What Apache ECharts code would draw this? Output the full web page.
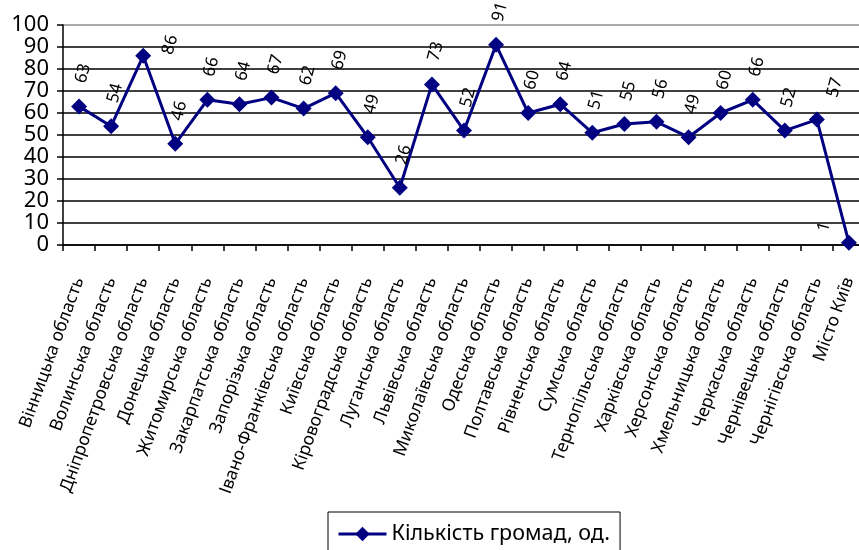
<!DOCTYPE html>
<html><head><meta charset="utf-8">
<script src="https://cdn.jsdelivr.net/npm/echarts@6/dist/echarts.min.js"></script>
<style>html,body{margin:0;padding:0;background:#fff}#c{width:859px;height:550px}</style>
</head><body><div id="c"></div>
<script>
const categories = ['Вінницька область','Волинська область','Дніпропетровська область','Донецька область','Житомирська область','Закарпатська область','Запорізька область','Івано-Франківська область','Київська область','Кіровоградська область','Луганська область','Львівська область','Миколаївська область','Одеська область','Полтавська область','Рівненська область','Сумська область','Тернопільська область','Харківська область','Херсонська область','Хмельницька область','Черкаська область','Чернівецька область','Чернігівська область','Місто Київ'];
const values = [63,54,86,46,66,64,67,62,69,49,26,73,52,91,60,64,51,55,56,49,60,66,52,57,1];
const seriesName = 'Кількість громад, од.';
const yTicks = {min:0, max:100, interval:10};

const FONT = 'Noto Sans';
const SYM = 16;
// label centre nudges relative to the marker centre
const defaultNudge = [4, -33];
const nudges = {2:[27,-11], 23:[18,-32], 24:[-25,-16]};
const data = values.map((v,i)=>{
  const n = nudges[i] || defaultNudge;
  return {value:v, label:{position:[SYM/2+n[0], SYM/2+n[1]]}};
});
const gridColors = [];
for (let v = yTicks.min; v <= yTicks.max; v += yTicks.interval) gridColors.push(v === yTicks.max ? '#8c8c8c' : '#000');

const chart = echarts.init(document.getElementById('c'));
chart.setOption({
  animation:false,
  textStyle:{fontFamily:FONT},
  grid:{left:63, top:25, right:-6, bottom:305, outerBoundsMode:'none'},
  legend:{
    data:[seriesName], left:328, top:512,
    borderColor:'#000', borderWidth:1, padding:[11,10,14,9],
    itemWidth:48, itemHeight:18, itemGap:5,
    itemStyle:{color:'#000080'},
    lineStyle:{color:'#000080', width:3},
    textStyle:{fontFamily:FONT, fontSize:21.5, color:'#000'}
  },
  xAxis:{
    type:'category', data:categories, boundaryGap:true,
    axisLine:{lineStyle:{color:'#000', width:1.5}},
    axisTick:{show:true, interval:0, length:6, lineStyle:{color:'#000', width:1.5}},
    axisLabel:{interval:0, rotate:70, margin:33, fontSize:17.5, color:'#000', fontFamily:FONT}
  },
  yAxis:{
    type:'value', min:yTicks.min, max:yTicks.max, interval:yTicks.interval,
    axisLine:{show:true, lineStyle:{color:'#000', width:1.5}},
    axisTick:{show:true, length:6, lineStyle:{color:'#000', width:1.5}},
    axisLabel:{fontSize:22, color:'#000', margin:14, fontFamily:FONT},
    splitLine:{show:true, lineStyle:{color:gridColors, width:1.5}}
  },
  series:[{
    name:seriesName, type:'line', data:data,
    symbol:'diamond', symbolSize:SYM,
    itemStyle:{color:'#000080'},
    lineStyle:{color:'#000080', width:3},
    label:{show:true, rotate:75, align:'center', verticalAlign:'middle', fontSize:17, color:'#000', fontFamily:FONT},
    z:5
  }]
});
</script></body></html>
